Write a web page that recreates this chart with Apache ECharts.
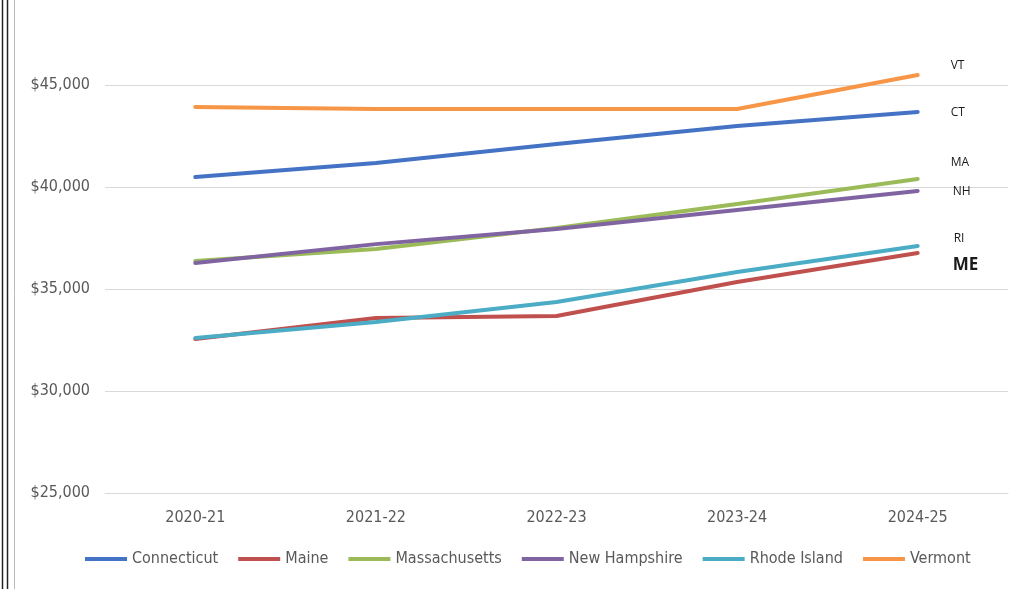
<!DOCTYPE html>
<html>
<head>
<meta charset="utf-8">
<script src="https://cdn.jsdelivr.net/npm/echarts@6/dist/echarts.min.js"></script>
<style>
html,body{margin:0;padding:0;background:#fff;}
#chart{width:1025px;height:589px;}
</style>
</head>
<body>
<div id="chart"></div>
<script>
const categories = ['2020-21', '2021-22', '2022-23', '2023-24', '2024-25'];
const seriesNames = ['Connecticut', 'Maine', 'Massachusetts', 'New Hampshire', 'Rhode Island', 'Vermont'];
const seriesAbbr = ['CT', 'ME', 'MA', 'NH', 'RI', 'VT'];
const connecticut = [40490, 41180, 42110, 42990, 43680];
const maine = [32550, 33580, 33680, 35340, 36760];
const massachusetts = [36370, 36960, 37990, 39170, 40390];
const newHampshire = [36270, 37200, 37940, 38870, 39800];
const rhodeIsland = [32600, 33380, 34360, 35830, 37110];
const vermont = [43920, 43820, 43820, 43820, 45490];
const yTicks = [25000, 30000, 35000, 40000, 45000, 50000];

const values = [connecticut, maine, massachusetts, newHampshire, rhodeIsland, vermont];
const colors = ['#4472C4', '#C0504D', '#9BBB59', '#8064A2', '#4BACC6', '#F79646'];
const labelOffsets = [[25, 1], [27, 12], [25, -16], [27, 0], [28, -7], [25, -9]];

const chart = echarts.init(document.getElementById('chart'));
const fontFam = '"Liberation Sans Narrow", "DejaVu Sans Condensed", "Liberation Sans", sans-serif';

chart.setOption({
  animation: false,
  backgroundColor: '#ffffff',
  grid: { left: 105, right: 17, top: -17, bottom: 96, containLabel: false, outerBoundsMode: 'none' },
  legend: {
    bottom: 17,
    left: 80,
    icon: 'rect',
    itemWidth: 42,
    itemHeight: 4,
    itemGap: 20,
    textStyle: { color: '#595959', fontSize: 16, fontFamily: fontFam },
    data: seriesNames
  },
  xAxis: {
    type: 'category',
    data: categories,
    boundaryGap: true,
    axisLine: { show: true, lineStyle: { color: '#D9D9D9', width: 1 } },
    axisTick: { show: false },
    axisLabel: { color: '#595959', fontSize: 16, fontFamily: fontFam, margin: 17 }
  },
  yAxis: {
    type: 'value',
    min: yTicks[0],
    max: yTicks[yTicks.length - 1],
    interval: 5000,
    axisLine: { show: false },
    axisTick: { show: false },
    splitLine: { lineStyle: { color: '#D9D9D9', width: 1 } },
    axisLabel: {
      color: '#595959', fontSize: 16, fontFamily: fontFam, margin: 15,
      formatter: v => '$' + v.toLocaleString('en-US')
    }
  },
  graphic: [
    { type: 'line', shape: { x1: 2.5, y1: 0, x2: 2.5, y2: 589 }, style: { stroke: '#222', lineWidth: 1.5 } },
    { type: 'line', shape: { x1: 7.5, y1: 0, x2: 7.5, y2: 589 }, style: { stroke: '#222', lineWidth: 1.5 } },
    { type: 'line', shape: { x1: 14.5, y1: 0, x2: 14.5, y2: 589 }, style: { stroke: '#BBBBBB', lineWidth: 1 } }
  ],
  series: seriesNames.map((name, i) => ({
    name: name,
    type: 'line',
    data: values[i],
    symbol: 'none',
    smooth: false,
    lineStyle: { color: colors[i], width: 4, cap: 'round', join: 'round' },
    itemStyle: { color: colors[i] },
    endLabel: {
      show: true,
      formatter: () => seriesAbbr[i],
      offset: labelOffsets[i],
      color: '#1a1a1a',
      fontSize: seriesAbbr[i] === 'ME' ? 17 : 12,
      fontWeight: seriesAbbr[i] === 'ME' ? 'bold' : 'normal',
      fontFamily: '"Open Sans", "Liberation Sans", sans-serif'
    }
  }))
});
</script>
</body>
</html>
